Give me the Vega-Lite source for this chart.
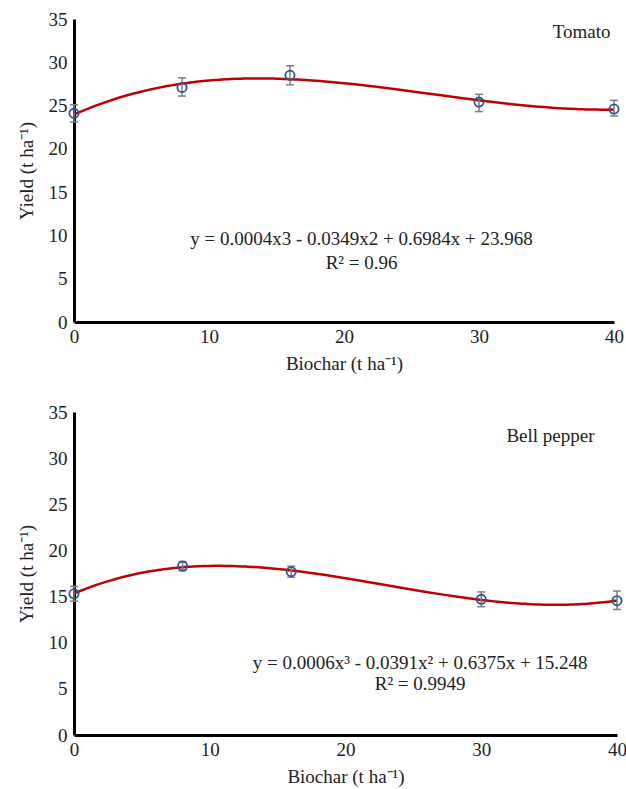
{
  "$schema": "https://vega.github.io/schema/vega-lite/v6.json",
  "padding": {"left": 17, "top": 10, "right": 6, "bottom": 6},
  "background": "white",
  "spacing": 30,
  "datasets": {
    "pts": [
      {"crop": "Tomato", "biochar": 0, "yield": 24.1, "lo": 23.1, "hi": 25.1},
      {"crop": "Tomato", "biochar": 8, "yield": 27.1, "lo": 26.1, "hi": 28.2},
      {"crop": "Tomato", "biochar": 16, "yield": 28.5, "lo": 27.4, "hi": 29.6},
      {"crop": "Tomato", "biochar": 30, "yield": 25.4, "lo": 24.3, "hi": 26.3},
      {"crop": "Tomato", "biochar": 40, "yield": 24.6, "lo": 23.8, "hi": 25.6},
      {"crop": "Bell pepper", "biochar": 0, "yield": 15.3, "lo": 14.5, "hi": 16.1},
      {"crop": "Bell pepper", "biochar": 8, "yield": 18.3, "lo": 17.8, "hi": 18.8},
      {"crop": "Bell pepper", "biochar": 16, "yield": 17.7, "lo": 17.1, "hi": 18.3},
      {"crop": "Bell pepper", "biochar": 30, "yield": 14.7, "lo": 13.9, "hi": 15.5},
      {"crop": "Bell pepper", "biochar": 40, "yield": 14.55, "lo": 13.6, "hi": 15.6}
    ],
    "notes": [
      {"crop": "Tomato", "biochar": 37.6, "yield": 33.5, "text": "Tomato"},
      {"crop": "Tomato", "biochar": 21.3, "yield": 9.6, "text": "y = 0.0004x3 - 0.0349x2 + 0.6984x + 23.968"},
      {"crop": "Tomato", "biochar": 21.3, "yield": 6.8, "text": "R² = 0.96"},
      {"crop": "Bell pepper", "biochar": 35.1, "yield": 32.4, "text": "Bell pepper"},
      {"crop": "Bell pepper", "biochar": 25.5, "yield": 7.8, "text": "y = 0.0006x³ - 0.0391x² + 0.6375x + 15.248"},
      {"crop": "Bell pepper", "biochar": 25.5, "yield": 5.5, "text": "R² = 0.9949"}
    ]
  },
  "config": {
    "view": {"stroke": null},
    "font": "Liberation Serif",
    "axis": {
      "domainColor": "black",
      "domainWidth": 3,
      "ticks": false,
      "grid": false,
      "labelFlush": false,
      "labelFont": "Liberation Serif",
      "labelFontSize": 19,
      "labelColor": "#222",
      "titleFont": "Liberation Serif",
      "titleFontSize": 19,
      "titleFontWeight": "normal",
      "titleColor": "#222"
    },
    "axisX": {"labelPadding": 5, "titlePadding": 8},
    "axisY": {"labelPadding": 7, "titlePadding": 12}
  },
  "vconcat": [
    {
      "width": 540,
      "height": 303,
      "layer": [
        {
          "data": {"name": "pts"},
          "transform": [
            {"filter": "datum.crop === 'Tomato'"},
            {"regression": "yield", "on": "biochar", "method": "poly", "order": 3, "extent": [0, 40]}
          ],
          "mark": {"type": "line", "color": "#C00000", "strokeWidth": 2.5},
          "encoding": {
            "x": {"field": "biochar", "type": "quantitative", "scale": {"domain": [0, 40], "nice": false},
                  "axis": {"values": [0, 10, 20, 30, 40], "title": "Biochar (t ha⁻¹)"}},
            "y": {"field": "yield", "type": "quantitative", "scale": {"domain": [0, 35], "nice": false},
                  "axis": {"values": [0, 5, 10, 15, 20, 25, 30, 35], "title": "Yield (t ha⁻¹)"}}
          }
        },
        {
          "data": {"name": "pts"},
          "transform": [{"filter": "datum.crop === 'Tomato'"}],
          "mark": {"type": "rule", "color": "#7f7f7f", "strokeWidth": 1.5},
          "encoding": {
            "x": {"field": "biochar", "type": "quantitative"},
            "y": {"field": "lo", "type": "quantitative"},
            "y2": {"field": "hi"}
          }
        },
        {
          "data": {"name": "pts"},
          "transform": [{"filter": "datum.crop === 'Tomato'"}],
          "mark": {"type": "tick", "color": "#7f7f7f", "orient": "horizontal", "size": 8, "thickness": 1.5, "opacity": 1},
          "encoding": {
            "x": {"field": "biochar", "type": "quantitative"},
            "y": {"field": "lo", "type": "quantitative"}
          }
        },
        {
          "data": {"name": "pts"},
          "transform": [{"filter": "datum.crop === 'Tomato'"}],
          "mark": {"type": "tick", "color": "#7f7f7f", "orient": "horizontal", "size": 8, "thickness": 1.5, "opacity": 1},
          "encoding": {
            "x": {"field": "biochar", "type": "quantitative"},
            "y": {"field": "hi", "type": "quantitative"}
          }
        },
        {
          "data": {"name": "pts"},
          "transform": [{"filter": "datum.crop === 'Tomato'"}],
          "mark": {"type": "point", "shape": "circle", "filled": false, "color": "#2F5597", "strokeWidth": 1.8, "size": 85, "opacity": 1},
          "encoding": {
            "x": {"field": "biochar", "type": "quantitative"},
            "y": {"field": "yield", "type": "quantitative"}
          }
        },
        {
          "data": {"name": "notes"},
          "transform": [{"filter": "datum.crop === 'Tomato'"}],
          "mark": {"type": "text", "font": "Liberation Serif", "fontSize": 19, "color": "#222", "align": "center", "baseline": "middle"},
          "encoding": {
            "x": {"field": "biochar", "type": "quantitative"},
            "y": {"field": "yield", "type": "quantitative"},
            "text": {"field": "text"}
          }
        }
      ]
    },
    {
      "width": 543,
      "height": 323,
      "layer": [
        {
          "data": {"name": "pts"},
          "transform": [
            {"filter": "datum.crop === 'Bell pepper'"},
            {"regression": "yield", "on": "biochar", "method": "poly", "order": 3, "extent": [0, 40]}
          ],
          "mark": {"type": "line", "color": "#C00000", "strokeWidth": 2.5},
          "encoding": {
            "x": {"field": "biochar", "type": "quantitative", "scale": {"domain": [0, 40], "nice": false},
                  "axis": {"values": [0, 10, 20, 30, 40], "title": "Biochar (t ha⁻¹)"}},
            "y": {"field": "yield", "type": "quantitative", "scale": {"domain": [0, 35], "nice": false},
                  "axis": {"values": [0, 5, 10, 15, 20, 25, 30, 35], "title": "Yield (t ha⁻¹)"}}
          }
        },
        {
          "data": {"name": "pts"},
          "transform": [{"filter": "datum.crop === 'Bell pepper'"}],
          "mark": {"type": "rule", "color": "#7f7f7f", "strokeWidth": 1.5},
          "encoding": {
            "x": {"field": "biochar", "type": "quantitative"},
            "y": {"field": "lo", "type": "quantitative"},
            "y2": {"field": "hi"}
          }
        },
        {
          "data": {"name": "pts"},
          "transform": [{"filter": "datum.crop === 'Bell pepper'"}],
          "mark": {"type": "tick", "color": "#7f7f7f", "orient": "horizontal", "size": 8, "thickness": 1.5, "opacity": 1},
          "encoding": {
            "x": {"field": "biochar", "type": "quantitative"},
            "y": {"field": "lo", "type": "quantitative"}
          }
        },
        {
          "data": {"name": "pts"},
          "transform": [{"filter": "datum.crop === 'Bell pepper'"}],
          "mark": {"type": "tick", "color": "#7f7f7f", "orient": "horizontal", "size": 8, "thickness": 1.5, "opacity": 1},
          "encoding": {
            "x": {"field": "biochar", "type": "quantitative"},
            "y": {"field": "hi", "type": "quantitative"}
          }
        },
        {
          "data": {"name": "pts"},
          "transform": [{"filter": "datum.crop === 'Bell pepper'"}],
          "mark": {"type": "point", "shape": "circle", "filled": false, "color": "#2F5597", "strokeWidth": 1.8, "size": 85, "opacity": 1},
          "encoding": {
            "x": {"field": "biochar", "type": "quantitative"},
            "y": {"field": "yield", "type": "quantitative"}
          }
        },
        {
          "data": {"name": "notes"},
          "transform": [{"filter": "datum.crop === 'Bell pepper'"}],
          "mark": {"type": "text", "font": "Liberation Serif", "fontSize": 19, "color": "#222", "align": "center", "baseline": "middle"},
          "encoding": {
            "x": {"field": "biochar", "type": "quantitative"},
            "y": {"field": "yield", "type": "quantitative"},
            "text": {"field": "text"}
          }
        }
      ]
    }
  ]
}
